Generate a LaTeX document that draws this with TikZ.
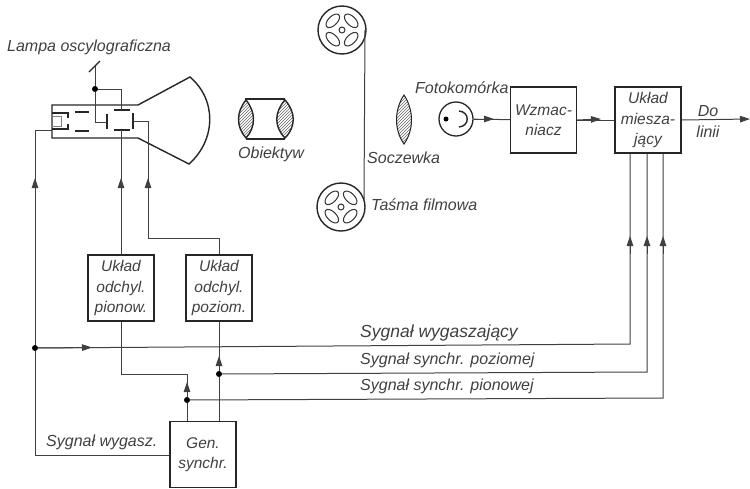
\documentclass[tikz,border=0pt]{standalone}
\usepackage{fontspec}
\setmainfont{Liberation Sans}
\usetikzlibrary{arrows.meta,patterns}

\begin{document}
\begin{tikzpicture}[
  x=1pt, y=-1pt,
  >={Triangle[length=10pt,width=6.5pt]},
  box/.style={draw=black!85, line width=1.4pt, minimum width=66pt, minimum height=66pt,
              align=center, inner sep=0pt, font=\itshape\fontsize{15.5}{20.5}\selectfont, text=black!75},
  lbl/.style={inner sep=0pt, font=\itshape\fontsize{16}{18}\selectfont, text=black!75},
  biglbl/.style={lbl, font=\itshape\fontsize{17.5}{18}\selectfont},
  wire/.style={draw=black!75, line width=1pt},
  tube/.style={draw=black!85, line width=1.4pt},
  dot/.style={circle, fill=black, inner sep=0pt, minimum size=6pt},
  reel/.pic={
    \draw[tube] (0,0) circle (24);
    \draw[black!80, line width=1pt] (0,0) circle (3);
    \foreach \ang in {45,135,225,315}
      \draw[black!80, line width=1pt, rotate=\ang] (13,0) ellipse (4.5 and 8.5);
  }
]
  \useasboundingbox (0,0) rectangle (750,488);

  % blocks
  \node[box] (wzm) at (543.5,120) {Wzmac-\\niacz};
  \node[box] (mix) at (648,120)   {Układ\\miesza-\\jący};
  \node[box] (pion) at (121,288)  {Układ\\odchyl.\\pionow.};
  \node[box] (poz) at (219,288)   {Układ\\odchyl.\\poziom.};
  \node[box] (gen) at (203,454.5) {Gen.\\synchr.};

  % labels
  \node[lbl, anchor=west] (lamp) at (7,47)    {Lampa oscylograficzna};
  \node[lbl, anchor=west] (obj)  at (238,154) {Obiektyw};
  \node[lbl, anchor=west] (socz) at (367,158) {Soczewka};
  \node[lbl, anchor=west] (film) at (371,205) {Taśma filmowa};
  \node[lbl, anchor=west] (foto) at (415,88)  {Fotokomórka};
  \node[lbl, align=center] (dol) at (708,121) {Do\\[3pt]linii};
  \node[biglbl, anchor=west] (s1) at (360,333) {Sygnał wygaszający};
  \node[lbl, anchor=west] (s2) at (360,360)   {Sygnał synchr. poziomej};
  \node[lbl, anchor=west] (s3) at (360,386)   {Sygnał synchr. pionowej};
  \node[lbl, anchor=west] (s4) at (46,442)    {Sygnał wygasz.};

  % oscilloscope tube
  \draw[tube] (138,105) -- (52,105) -- (52,138) -- (138,138) -- (189,164)
      .. controls (216,140) and (217,100) .. (190,77) -- cycle;
  \draw[tube] (75,112) -- (89,112) (75,131) -- (89,131);
  \draw[tube] (52,113) -- (68,113) -- (68,118) (68,124) -- (68,129) -- (52,129);
  \draw[black!50, line width=1pt] (52,116) -- (61,116) -- (61,126) -- (52,126);
  \draw[tube] (114,110) -- (130,110) (114,130) -- (130,130);
  \draw[tube] (107,114) -- (107,129) (133,113) -- (133,129);
  \draw[tube] (89,72) -- (100,61);

  % objective
  \draw[tube] (245,99) -- (285,99) (246,139) -- (285,139);
  \draw[tube, pattern=north east lines, pattern color=black!60]
      (246,100) .. controls (236,112) and (236,127) .. (246,138)
      .. controls (256,127) and (256,112) .. cycle;
  \draw[tube, pattern=north east lines, pattern color=black!60]
      (285,100) .. controls (274,112) and (274,127) .. (285,138)
      .. controls (296,127) and (296,112) .. cycle;

  % film
  \pic (reeltop) at (342,30) {reel};
  \pic (reelbot) at (341,207) {reel};
  \draw[wire] (365,30) -- (364,200);

  % lens
  \draw[tube, line width=1pt, pattern=north east lines, pattern color=black!60]
      (404,95) .. controls (394,110) and (394,130) .. (404,144)
      .. controls (414,130) and (414,110) .. cycle;

  % photocell
  \node[circle, draw=black!85, line width=1.3pt, minimum size=34pt, inner sep=0pt] (cell) at (456,119) {};
  \node[dot, minimum size=5pt] (cat) at (446,119) {};
  \draw[tube] (459,111) .. controls (470,112) and (470,126) .. (459,127);

  % junctions
  \coordinate (lg) at (95,66);
  \node[dot] (jg) at (95,89) {};
  \coordinate (pl) at (107,122);
  \coordinate (pt) at (121,110);
  \coordinate (pb) at (121,130);
  \coordinate (pr) at (133,121);
  \coordinate (cath) at (52,130);
  \node[dot] (js) at (35,348) {};
  \node[dot] (jh) at (219,374) {};
  \node[dot] (jv) at (187,400) {};
  \coordinate (m1) at (630,344);
  \coordinate (m2) at (647,372);
  \coordinate (m3) at (663,398);
  \coordinate (end) at (750,119);

  % connectors
  \draw[wire] (lg) -- (jg) -- (95,122) -- (pl);
  \draw[wire] (jg) -- (121,89) -- (pt);
  \draw[wire] (pb) -- (pion.north);
  \draw[wire] (pr) -- (148,121) -- (148,238) -- (219,238) -- (poz.north);
  \draw[wire, ->] (121,255) -- (121,178);
  \draw[wire, ->] (148,238) -- (148,178);
  \draw[wire] (gen.west |- 0,455) -- (35,455) -- (js) -- (35,130) -- (cath);
  \draw[wire, ->] (js) -- (35,178);
  \draw[wire] (js) -- (m1) -- (mix.south -| m1);
  \draw[wire, ->] (js) -- (92,347.5);
  \draw[wire] (jh) -- (m2) -- (mix.south -| m2);
  \draw[wire] (jv) -- (m3) -- (mix.south -| m3);
  \draw[wire, ->] (630,254) -- (630,236);
  \draw[wire, ->] (647,254) -- (647,236);
  \draw[wire, ->] (663,254) -- (663,236);
  \draw[wire] (pion.south) -- (121,374) -- (187,374) -- (jv) -- (gen.north -| jv);
  \draw[wire, ->] (jv) -- (187,382);
  \draw[wire] (poz.south) -- (jh) -- (gen.north -| jh);
  \draw[wire, ->] (jh) -- (219,356);
  \draw[wire] (cell) -- (wzm);
  \draw[wire, ->] (cell.east) -- (494,119);
  \draw[wire] (wzm) -- (mix);
  \draw[wire, ->] (wzm.east) -- (601,119);
  \draw[wire, ->] (mix.east) -- (end);
\end{tikzpicture}
\end{document}
